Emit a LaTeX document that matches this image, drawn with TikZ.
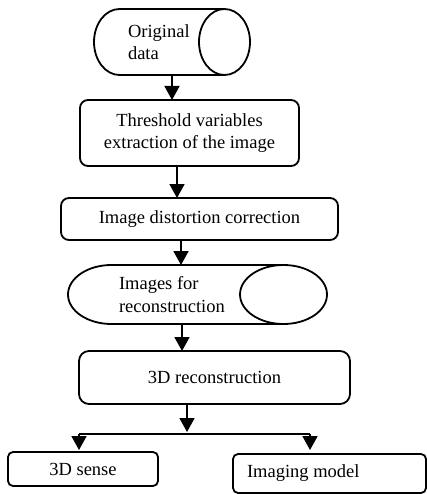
\documentclass[tikz,border=0pt]{standalone}
\usepackage{fontspec}
\setmainfont{Liberation Serif}
\usetikzlibrary{arrows.meta}

\tikzset{
  stepbox/.style={draw, line width=1.8pt, rounded corners=8pt, align=center, inner sep=0pt, outer sep=0pt},
  drum/.style={draw=none, align=flush left, inner ysep=0pt, outer sep=0pt},
  flow/.style={line width=1.8pt, -{Triangle[width=15pt,length=14pt]}},
}

\begin{document}
\begin{tikzpicture}[x=1pt,y=1pt,font=\fontsize{18.5}{22.5}\selectfont]
  \useasboundingbox (0,0) rectangle (427,-494);
  % data stores, drawn as lying cylinders
  \node[drum, text width=88pt, inner xsep=34pt, minimum height=66pt] (orig) at (172,-42) {Original\\data};
  \draw[line width=1.8pt] ([xshift=-25.5pt]orig.north east) -- ([xshift=25.5pt]orig.north west)
    arc[start angle=90, end angle=270, x radius=25.5, y radius=33] -- ([xshift=-25.5pt]orig.south east);
  \draw[line width=1.8pt] ([xshift=-25.5pt]orig.east) ellipse [x radius=25.5, y radius=33];
  \node[drum, text width=157pt, inner xsep=51pt, minimum height=59pt] (imgs) at (197.5,-294.5) {Images for\\reconstruction};
  \draw[line width=1.8pt] ([xshift=-43.5pt]imgs.north east) -- ([xshift=43.5pt]imgs.north west)
    arc[start angle=90, end angle=270, x radius=43.5, y radius=29.5] -- ([xshift=-43.5pt]imgs.south east);
  \draw[line width=1.8pt] ([xshift=-43.5pt]imgs.east) ellipse [x radius=43.5, y radius=29.5];
  % processing steps
  \node[stepbox, minimum width=219pt, minimum height=66pt] (thr) at (189.5,-133) {Threshold variables\\extraction of the image};
  \node[stepbox, minimum width=277pt, minimum height=42pt] (dist) at (199.5,-219) {Image distortion correction};
  \node[stepbox, minimum width=271pt, minimum height=53pt, rounded corners=10pt] (rec) at (214.5,-377.5) {3D reconstruction};
  \node[stepbox, minimum width=150pt, minimum height=34pt, rounded corners=5pt] (sense) at (83,-469) {3D sense};
  \node[stepbox, text width=165pt, inner xsep=14pt, align=flush left, minimum height=39pt, rounded corners=5pt] (model) at (329.5,-473.5) {Imaging model};
  % arrows
  \draw[flow] (orig.south) -- (orig.south |- thr.north);
  \draw[flow] ([xshift=-12.5pt]thr.south) -- ([xshift=-12.5pt]thr.south |- dist.north);
  \draw[flow] ([xshift=-18.5pt]dist.south) -- ([xshift=-18.5pt]dist.south |- imgs.north);
  \draw[flow] ([xshift=-15.5pt]imgs.south) -- ([xshift=-15.5pt]imgs.south |- rec.north);
  \coordinate (split) at (187,-434);
  \coordinate (forkl) at (79,-434);
  \coordinate (forkr) at (310,-434);
  \draw[flow] ([xshift=-27.5pt]rec.south) -- ([yshift=2pt]split);
  \draw[line width=1.8pt] (forkl) -- (forkr);
  \draw[flow] (forkl) -- ([yshift=2pt]forkl |- sense.north);
  \draw[flow] (forkr) -- ([yshift=4pt]forkr |- model.north);
\end{tikzpicture}
\end{document}
